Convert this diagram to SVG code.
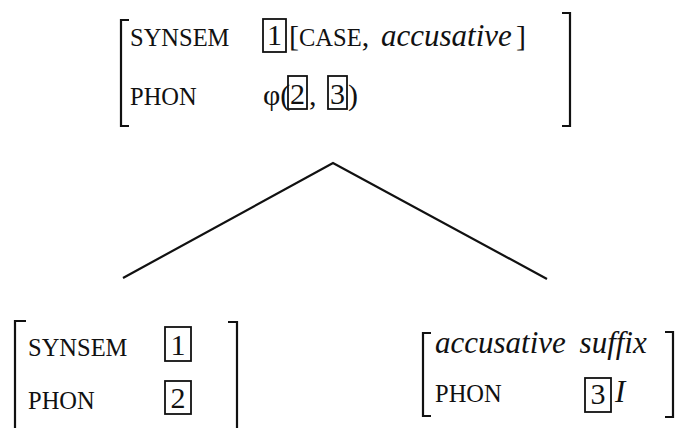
<svg xmlns="http://www.w3.org/2000/svg" width="683" height="428" viewBox="0 0 683 428">
<style>
.t{font-family:"Liberation Serif","DejaVu Serif",serif;fill:#111;font-size:30px}
.sc{font-size:24.5px}
.it{font-style:italic;font-size:31px}
.br{fill:none;stroke:#111;stroke-width:2.2}
.bx{fill:none;stroke:#111;stroke-width:1.8}
.ln{fill:none;stroke:#111;stroke-width:2.2}
</style>
<rect width="683" height="428" fill="#fff"/>
<g id="mother">
<path class="br" d="M129,20 H121 V126 H129"/>
<path class="br" d="M562,13 H570 V126 H562"/>
<text class="t sc" x="130" y="46">SYNSEM</text>
<rect class="bx" x="263" y="19" width="23" height="33"/>
<text class="t" x="274.5" y="45" text-anchor="middle">1</text>
<text class="t" x="289" y="46">[<tspan class="sc">CASE</tspan>,</text>
<text class="t it" x="381" y="46">accusative</text>
<text class="t" x="516" y="46">]</text>
<text class="t sc" x="130" y="105">PHON</text>
<text class="t" x="263" y="105">φ(</text>
<rect class="bx" x="288" y="76" width="19" height="33"/>
<text class="t" x="297.5" y="104" text-anchor="middle">2</text>
<text class="t" x="309" y="105">,</text>
<rect class="bx" x="328" y="76" width="19" height="33"/>
<text class="t" x="337.5" y="104" text-anchor="middle">3</text>
<text class="t" x="348" y="105">)</text>
</g>
<g id="connectors">
<polyline class="ln" points="123,278 333,163 547,279"/>
</g>
<g id="left-daughter">
<path class="br" d="M26,321 H15 V428"/>
<path class="br" d="M228,322 H237 V428"/>
<text class="t sc" x="28" y="356">SYNSEM</text>
<rect class="bx" x="165" y="327" width="26" height="34"/>
<text class="t" x="178" y="355" text-anchor="middle">1</text>
<text class="t sc" x="28" y="409">PHON</text>
<rect class="bx" x="165" y="381" width="26" height="33"/>
<text class="t" x="178" y="408" text-anchor="middle">2</text>
</g>
<g id="right-daughter">
<path class="br" d="M431,333 H423 V416 H431"/>
<path class="br" d="M665,332 H673 V417 H665"/>
<text class="t it" x="435" y="353" font-size="32" word-spacing="6">accusative suffix</text>
<text class="t sc" x="435" y="402">PHON</text>
<rect class="bx" x="585" y="378" width="26" height="34"/>
<text class="t" x="598" y="404" text-anchor="middle">3</text>
<text class="t it" x="615" y="402">I</text>
</g>
</svg>
